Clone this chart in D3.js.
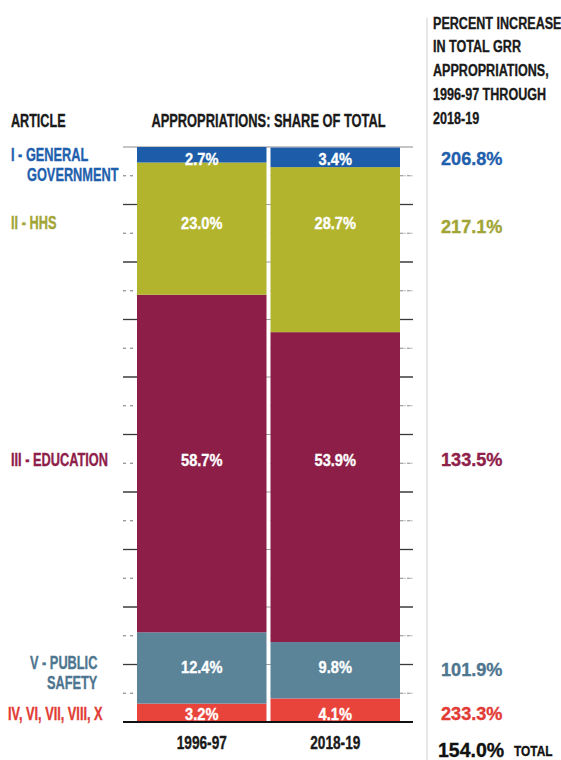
<!DOCTYPE html>
<html>
<head>
<meta charset="utf-8">
<script src="https://cdn.jsdelivr.net/npm/d3@7/dist/d3.min.js"></script>
<style>
  html, body { margin: 0; padding: 0; background: #fff; }
  svg text { font-family: "Liberation Sans", Arial, "Roboto", sans-serif; font-weight: bold; }
</style>
</head>
<body>
<svg id="chart" width="561" height="760"></svg>
<script>
// Fiscal years shown as columns
const years = ["1996-97", "2018-19"];

// Articles, top to bottom
const articleKeys = ["gen", "hhs", "edu", "pub", "oth"];
const articleLines = [
  ["I - GENERAL", "GOVERNMENT"],
  ["II - HHS"],
  ["III - EDUCATION"],
  ["V - PUBLIC", "SAFETY"],
  ["IV, VI, VII, VIII, X"]
];
const articleColors = ["#1c5ca8", "#b3b42e", "#8c1e47", "#5b8499", "#e9443b"];
const labelColors   = ["#1f60ad", "#a2a536", "#8e2049", "#4f7690", "#e23b35"];

// Share of total GRR appropriations (%), per article
const share1996 = [2.7, 23.0, 58.7, 12.4, 3.2];
const share2018 = [3.4, 28.7, 53.9, 9.8, 4.1];

// Percent increase 1996-97 through 2018-19
const increase = [206.8, 217.1, 133.5, 101.9, 233.3];
const totalIncrease = 154.0;

// Grid ticks (percent of total)
const gridTicks = d3.range(5, 100, 5);

const headerLines = ["PERCENT INCREASE", "IN TOTAL GRR", "APPROPRIATIONS,", "1996-97 THROUGH", "2018-19"];

const svg = d3.select("#chart");

// Condensed type: draw at origin, then place and squeeze horizontally;
// a hairline stroke in the fill colour keeps the squeezed stems heavy
function place(sel, x, y, sx) {
  sel.attr("x", 0).attr("y", 0)
     .attr("stroke", function () { return d3.select(this).attr("fill"); })
     .attr("stroke-width", 0.35)
     .attr("transform", (d, i) => {
       const xx = typeof x === "function" ? x(d, i) : x;
       const yy = typeof y === "function" ? y(d, i) : y;
       return `translate(${xx},${yy}) scale(${sx},1)`;
     });
  return sel;
}

const rows = years.map((yr, i) => {
  const vals = i === 0 ? share1996 : share2018;
  const r = { year: yr };
  articleKeys.forEach((k, j) => r[k] = vals[j]);
  return r;
});

const x = d3.scaleBand().domain(years).range([137, 400]).paddingInner(0.03);
const y = d3.scaleLinear().domain([0, 100]).range([722, 147]);

// stack bottom-up: last article sits at the base
const stack = d3.stack().keys(articleKeys.slice().reverse());
const series = stack(rows);

// Background grid lines across the plot
svg.append("g").selectAll("line")
  .data(gridTicks)
  .join("line")
  .attr("x1", 123).attr("x2", 413)
  .attr("y1", d => y(d)).attr("y2", d => y(d))
  .attr("stroke", d => d % 10 === 0 ? "#9a9a9a" : "#c4c4c4")
  .attr("stroke-dasharray", d => d % 10 === 0 ? null : "3,4");

// Top rule
svg.append("line")
  .attr("x1", 123).attr("x2", 413)
  .attr("y1", y(100)).attr("y2", y(100))
  .attr("stroke", "#8a8a8a");

// Stacked bars
const colorOf = k => articleColors[articleKeys.indexOf(k)];
svg.append("g").selectAll("g")
  .data(series)
  .join("g")
  .attr("fill", d => colorOf(d.key))
  .selectAll("rect")
  .data(d => d)
  .join("rect")
  .attr("x", d => x(d.data.year))
  .attr("width", x.bandwidth())
  .attr("y", d => y(d[1]))
  .attr("height", d => y(d[0]) - y(d[1]));

// Base line
svg.append("line")
  .attr("x1", 123).attr("x2", 413)
  .attr("y1", y(0)).attr("y2", y(0))
  .attr("stroke", "#111").attr("stroke-width", 2);

// Row baselines: midpoint of each article's first-year segment, nudged
const rowOffset = [10.5, 0.5, 2.5, 5.5, 7];
const rowBase = articleKeys.map((k, j) => {
  const s = series.find(d => d.key === k)[0];
  return (y(s[0]) + y(s[1])) / 2 + rowOffset[j];
});

// Value labels inside bars
years.forEach((yr, i) => {
  const vals = i === 0 ? share1996 : share2018;
  place(svg.append("g").selectAll("text")
    .data(vals)
    .join("text")
    .attr("text-anchor", "middle")
    .attr("fill", "#fff")
    .attr("font-size", 17)
    .text(d => d.toFixed(1) + "%"),
    x(yr) + x.bandwidth() / 2, (d, j) => rowBase[j], 0.86);
});

// Article labels on the left, hanging indent on second line
const labelX = [[11, 27], [11], [11], [30, 47], [8]];
articleLines.forEach((lines, j) => {
  lines.forEach((ln, li) => {
    const yy = lines.length > 1 ? rowBase[j] - 4 + li * 20 : rowBase[j];
    place(svg.append("text")
      .attr("fill", labelColors[j])
      .attr("font-size", 18)
      .text(ln), labelX[j][li], yy, 0.71);
  });
});

// Tick marks to the left of the first bar and right of the second
[[123, 137], [400, 413]].forEach(([a, b]) => {
  svg.append("g").selectAll("line")
    .data(gridTicks)
    .join("line")
    .attr("x1", a).attr("x2", b)
    .attr("y1", d => y(d)).attr("y2", d => y(d))
    .attr("stroke", d => d % 10 === 0 ? "#3a3a3a" : "#8a8a8a")
    .attr("stroke-width", d => d % 10 === 0 ? 1.3 : 1)
    .attr("stroke-dasharray", d => d % 10 === 0 ? null : "3,4");
});

// Column headers
place(svg.append("text").attr("font-size", 18).attr("fill", "#1a1a1a").text("ARTICLE"), 11, 127, 0.7);
place(svg.append("text").attr("text-anchor", "middle").attr("font-size", 18).attr("fill", "#1a1a1a")
  .text("APPROPRIATIONS: SHARE OF TOTAL"), (x(years[0]) + x(years[1]) + x.bandwidth()) / 2, 127, 0.715);

// Year labels below the bars
place(svg.append("g").selectAll("text")
  .data(years)
  .join("text")
  .attr("text-anchor", "middle")
  .attr("font-size", 18)
  .attr("fill", "#1a1a1a")
  .text(d => d), d => x(d) + x.bandwidth() / 2, 749, 0.76);

// Divider
svg.append("line").attr("x1", 427).attr("x2", 427).attr("y1", 18).attr("y2", 760)
  .attr("stroke", "#cfcfcf");

// Right column header
place(svg.append("g").selectAll("text")
  .data(headerLines)
  .join("text")
  .attr("font-size", 17)
  .attr("fill", "#1a1a1a")
  .text(d => d), 433, (d, i) => 28.5 + i * 23.9, 0.74);

// Percent increase per article
place(svg.append("g").selectAll("text")
  .data(increase)
  .join("text")
  .attr("font-size", 18.5)
  .attr("fill", (d, j) => labelColors[j])
  .text(d => d.toFixed(1) + "%"), 441, (d, j) => rowBase[j] + (j === 1 ? 4 : j === 3 ? 3 : 0), 0.98);

// Total increase
place(svg.append("text").attr("font-size", 19.5).attr("fill", "#111")
  .text(totalIncrease.toFixed(1) + "%"), 438, 757, 1.0);
place(svg.append("text").attr("font-size", 14.5).attr("fill", "#111").text("TOTAL"), 514, 756, 0.82);
</script>
</body>
</html>
